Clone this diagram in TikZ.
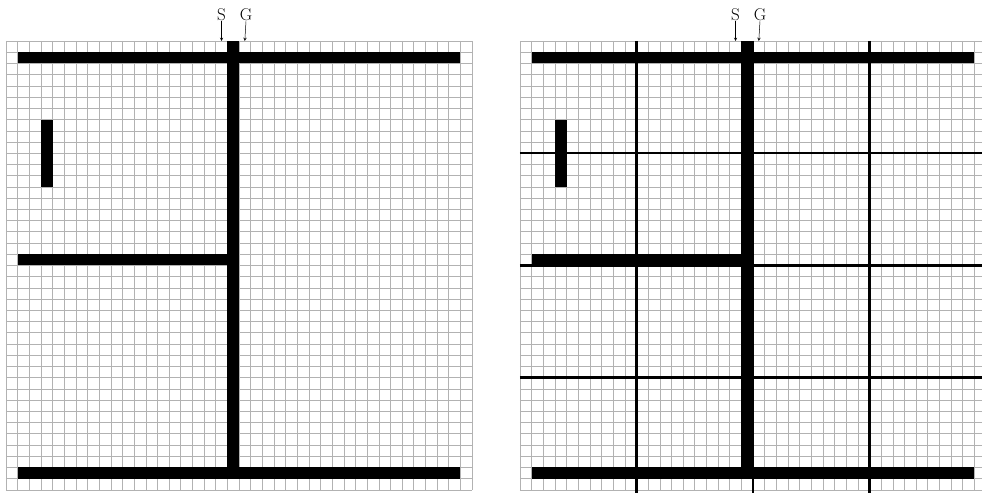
\documentclass[tikz,border=0pt]{standalone}
\usepackage{tikz}
\usetikzlibrary{arrows,positioning}

\begin{document}
\begin{tikzpicture}[
  x=11.65pt, y=-11.22pt,
  gridline/.style={draw=gray!60, line width=0.5pt},
  wallcell/.style={fill=black},
  region/.style={draw=black, line width=2.3pt},
  tag/.style={font=\fontsize{17}{17}\selectfont, inner sep=0.5pt},
  pointer/.style={->, >=stealth, line width=0.5pt}
]
\useasboundingbox (-0.515,-3.654) rectangle (83.78,40.29);
\clip (-0.515,-3.654) rectangle (83.78,40.29);

\foreach \ox/\g in {0/a, 44.12/b} {
  \begin{scope}[shift={(\ox,0)}]
    % grid
    \foreach \i in {0,...,40} {
      \draw[gridline] (\i,0) -- (\i,40);
      \draw[gridline] (0,\i) -- (40,\i);
    }
    % obstacles
    \foreach \c in {1,...,38} {
      \fill[wallcell] (\c,1) rectangle ++(1,1);
      \fill[wallcell] (\c,38) rectangle ++(1,1);
    }
    \foreach \c in {1,...,18} \fill[wallcell] (\c,19) rectangle ++(1,1);
    \foreach \r in {0,...,38} \fill[wallcell] (19,\r) rectangle ++(1,1);
    \foreach \r in {7,...,12} \fill[wallcell] (3,\r) rectangle ++(1,1);
    % start and goal
    \node[tag] (S-\g) at (18.5,-2.35) {S};
    \node[tag] (G-\g) at (20.6,-2.35) {G};
    \coordinate (s-\g) at (18.5,0);
    \coordinate (g-\g) at (20.5,0);
    \draw[pointer] (S-\g.south) -- (s-\g);
    \draw[pointer] (G-\g.south) -- (g-\g);
  \end{scope}
}

% region borders
\begin{scope}[shift={(44.12,0)}]
  \foreach \i in {10,20,30} {
    \draw[region] (\i,0) -- (\i,40.3);
    \draw[region] (0,\i) -- (40,\i);
  }
\end{scope}
\end{tikzpicture}
\end{document}
